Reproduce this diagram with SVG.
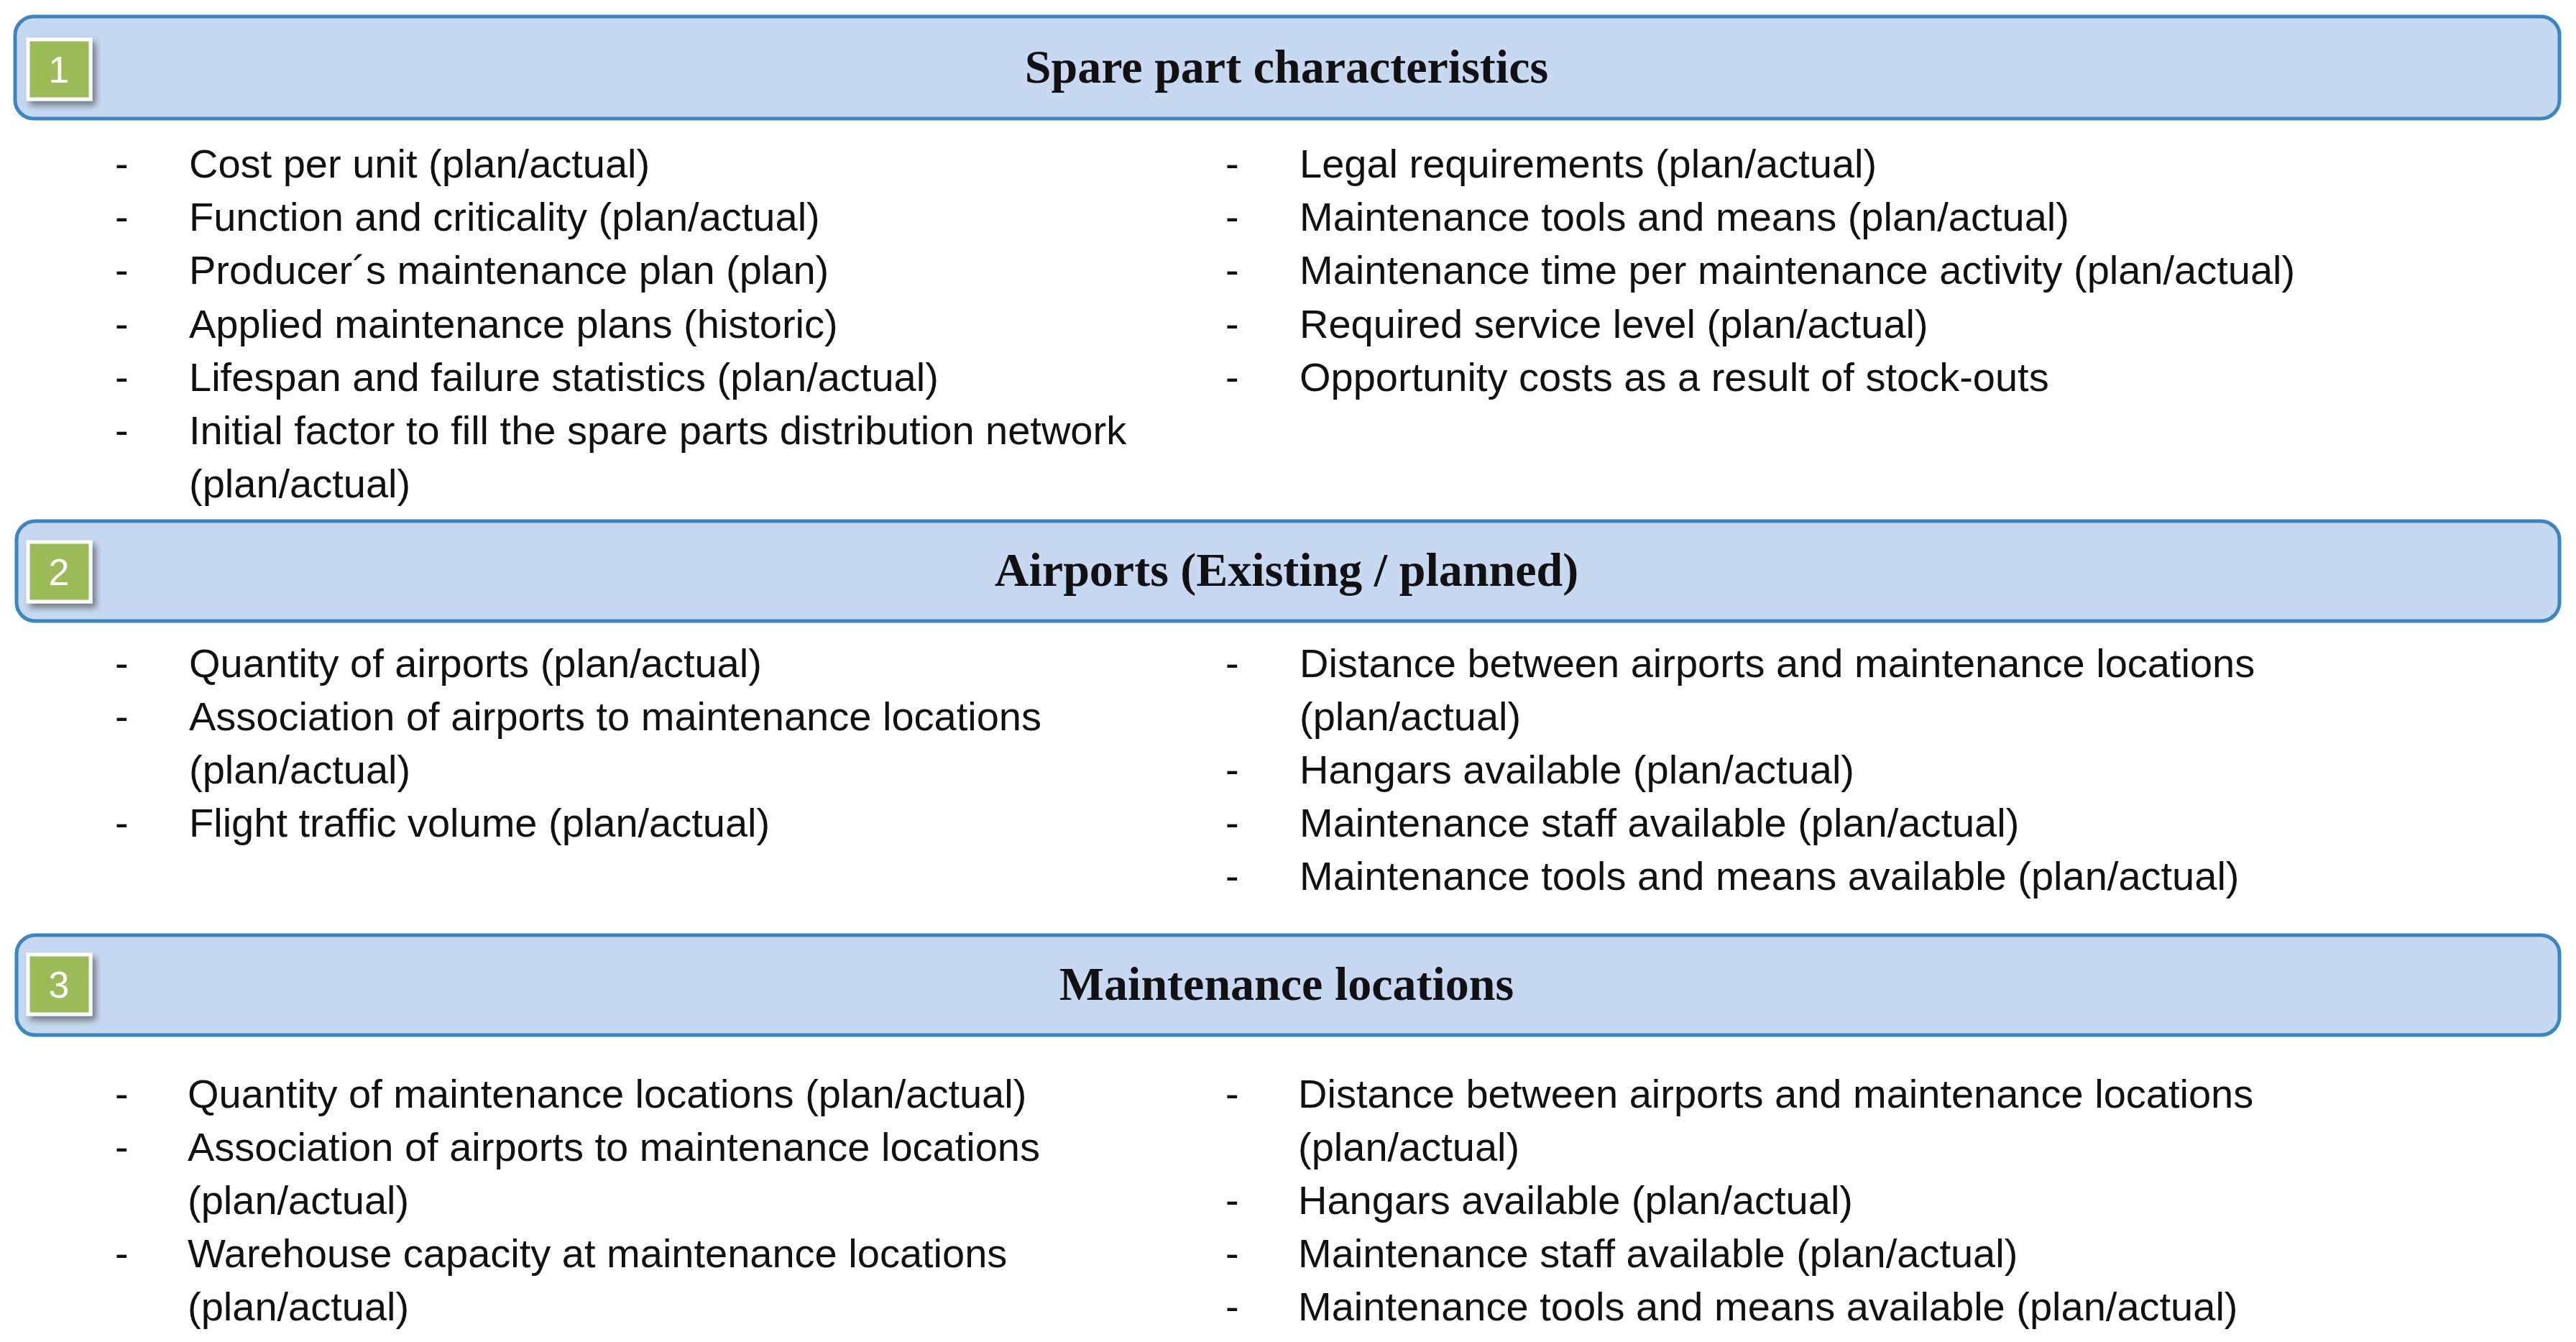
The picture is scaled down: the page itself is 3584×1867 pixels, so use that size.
<svg xmlns="http://www.w3.org/2000/svg" width="3584" height="1867" viewBox="0 0 3584 1867">
<style>
.hdr{fill:#C6D9F0;stroke:#3C85C0;stroke-width:5}
.num{fill:#9BBB59;stroke:#fff;stroke-width:5}
.numt{font-family:"Liberation Sans",Arial,sans-serif;font-size:52px;fill:#fff;text-anchor:middle}
.ttl{font-family:"Liberation Serif","Times New Roman",serif;font-weight:bold;font-size:66px;fill:#111;text-anchor:middle}
.it{font-family:"Liberation Sans",Arial,sans-serif;font-size:56px;fill:#111}
</style>
<defs><filter id="sh" x="-30%" y="-30%" width="170%" height="170%"><feDropShadow dx="5" dy="6" stdDeviation="5" flood-color="#000" flood-opacity="0.45"/></filter></defs>
<rect width="3584" height="1867" fill="#fff"/>
<g id="node1">
<rect class="hdr" x="21" y="23" width="3540" height="142" rx="26"/>
<rect class="num" x="39" y="55" width="87" height="83" filter="url(#sh)"/>
<text class="numt" x="82" y="115">1</text>
<text class="ttl" x="1790" y="115">Spare part characteristics</text>
</g>
<g id="list1" class="it">
<text x="160" y="247">-</text><text x="263" y="247">Cost per unit (plan/actual)</text>
<text x="160" y="321">-</text><text x="263" y="321">Function and criticality (plan/actual)</text>
<text x="160" y="395">-</text><text x="263" y="395">Producer´s maintenance plan (plan)</text>
<text x="160" y="470">-</text><text x="263" y="470">Applied maintenance plans (historic)</text>
<text x="160" y="544">-</text><text x="263" y="544">Lifespan and failure statistics (plan/actual)</text>
<text x="160" y="618">-</text><text x="263" y="618">Initial factor to fill the spare parts distribution network</text>
<text x="263" y="692">(plan/actual)</text>
<text x="1705" y="247">-</text><text x="1808" y="247">Legal requirements (plan/actual)</text>
<text x="1705" y="321">-</text><text x="1808" y="321">Maintenance tools and means (plan/actual)</text>
<text x="1705" y="395">-</text><text x="1808" y="395">Maintenance time per maintenance activity (plan/actual)</text>
<text x="1705" y="470">-</text><text x="1808" y="470">Required service level (plan/actual)</text>
<text x="1705" y="544">-</text><text x="1808" y="544">Opportunity costs as a result of stock-outs</text>
</g>
<g id="node2">
<rect class="hdr" x="23" y="725" width="3538" height="139" rx="26"/>
<rect class="num" x="39" y="754" width="87" height="83" filter="url(#sh)"/>
<text class="numt" x="82" y="814">2</text>
<text class="ttl" x="1790" y="815">Airports (Existing / planned)</text>
</g>
<g id="list2" class="it">
<text x="160" y="942">-</text><text x="263" y="942">Quantity of airports (plan/actual)</text>
<text x="160" y="1016">-</text><text x="263" y="1016">Association of airports to maintenance locations</text>
<text x="263" y="1090">(plan/actual)</text>
<text x="160" y="1164">-</text><text x="263" y="1164">Flight traffic volume (plan/actual)</text>
<text x="1705" y="942">-</text><text x="1808" y="942">Distance between airports and maintenance locations</text>
<text x="1808" y="1016">(plan/actual)</text>
<text x="1705" y="1090">-</text><text x="1808" y="1090">Hangars available (plan/actual)</text>
<text x="1705" y="1164">-</text><text x="1808" y="1164">Maintenance staff available (plan/actual)</text>
<text x="1705" y="1238">-</text><text x="1808" y="1238">Maintenance tools and means available (plan/actual)</text>
</g>
<g id="node3">
<rect class="hdr" x="23" y="1301" width="3538" height="139" rx="26"/>
<rect class="num" x="39" y="1328" width="87" height="83" filter="url(#sh)"/>
<text class="numt" x="82" y="1388">3</text>
<text class="ttl" x="1790" y="1391">Maintenance locations</text>
</g>
<g id="list3" class="it">
<text x="160" y="1541">-</text><text x="261" y="1541">Quantity of maintenance locations (plan/actual)</text>
<text x="160" y="1615">-</text><text x="261" y="1615">Association of airports to maintenance locations</text>
<text x="261" y="1689">(plan/actual)</text>
<text x="160" y="1763">-</text><text x="261" y="1763">Warehouse capacity at maintenance locations</text>
<text x="261" y="1837">(plan/actual)</text>
<text x="1705" y="1541">-</text><text x="1806" y="1541">Distance between airports and maintenance locations</text>
<text x="1806" y="1615">(plan/actual)</text>
<text x="1705" y="1689">-</text><text x="1806" y="1689">Hangars available (plan/actual)</text>
<text x="1705" y="1763">-</text><text x="1806" y="1763">Maintenance staff available (plan/actual)</text>
<text x="1705" y="1837">-</text><text x="1806" y="1837">Maintenance tools and means available (plan/actual)</text>
</g>
<g id="connectors"/>
</svg>
